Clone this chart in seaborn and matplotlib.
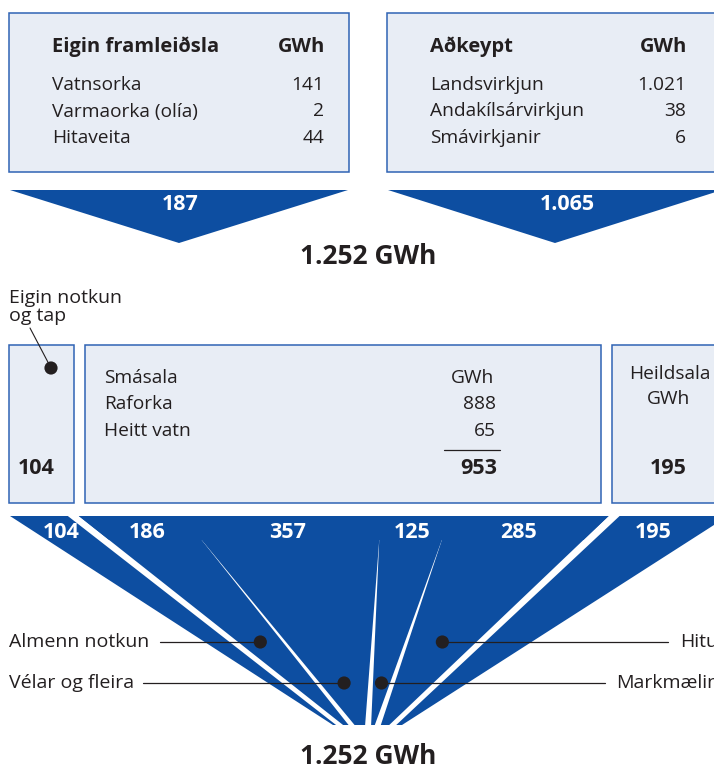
import matplotlib
matplotlib.use("Agg")
import matplotlib.pyplot as plt
from matplotlib.patches import Polygon, Rectangle
import pandas as pd
import seaborn as sns

# data (GWh)
prod_labels = ["Vatnsorka", "Varmaorka (olía)", "Hitaveita"]
prod_values = [141, 2, 44]
buy_labels = ["Landsvirkjun", "Andakílsárvirkjun", "Smávirkjanir"]
buy_values = [1021, 38, 6]
retail_labels = ["Raforka", "Heitt vatn"]
retail_values = [888, 65]
own_use = 104
wholesale = 195
use_labels = ["Eigin notkun og tap", "Almenn notkun", "Vélar og fleira",
              "Markmæling", "Hitun", "Heildsala"]
use_values = [104, 186, 357, 125, 285, 195]
gap_kinds = ["stripe", "wedge", "wedge", "wedge", "stripe"]

BLUE = "#0d4ea1"
BOX_FILL = "#e8edf5"
BOX_EDGE = "#2f63b4"
INK = "#231f20"
FONT = ["Open Sans", "DejaVu Sans"]
BODY = 13.8
HEAD = 14.5
NUM = 15.5
BIG = 19


def fmt(v):
    return f"{v:,}".replace(",", ".")


sns.set_theme(style="white")
plt.rcParams['font.family'] = FONT

fig = plt.figure(figsize=(7.14, 7.69), dpi=100)
ax = fig.add_axes([0, 0, 1, 1])
ax.set_xlim(0, 714)
ax.set_ylim(769, 0)
ax.axis("off")


def box(x0, y0, x1, y1):
    ax.add_patch(Rectangle((x0, y0), x1 - x0, y1 - y0, facecolor=BOX_FILL,
                           edgecolor=BOX_EDGE, lw=1.1, zorder=1))


def txt(x, y, s, size=BODY, weight="normal", ha="left", color=INK, **kw):
    ax.text(x, y, s, fontsize=size, fontweight=weight, ha=ha, va="center",
            color=color, **kw)


# ---- top: sources ----
box(9, 13, 349, 172)
box(387, 13, 727, 172)
txt(52, 47, "Eigin framleiðsla", size=HEAD, weight="bold")
txt(325, 47, "GWh", size=HEAD, weight="bold", ha="right")
txt(430, 47, "Aðkeypt", size=HEAD, weight="bold")
txt(687, 47, "GWh", size=HEAD, weight="bold", ha="right")
for i, (lab, v) in enumerate(zip(prod_labels, prod_values)):
    txt(52, 85 + i * 26.5, lab)
    txt(324, 85 + i * 26.5, fmt(v), ha="right")
for i, (lab, v) in enumerate(zip(buy_labels, buy_values)):
    txt(430, 85 + i * 26.5, lab)
    txt(686, 85 + i * 26.5, fmt(v), ha="right")

ax.add_patch(Polygon([(10, 190), (348, 190), (179, 243)], color=BLUE, lw=0))
ax.add_patch(Polygon([(388, 190), (722, 190), (555, 243)], color=BLUE, lw=0))
txt(180, 205, fmt(sum(prod_values)), size=NUM, weight="bold", ha="center",
    color="white")
txt(567, 205, fmt(sum(buy_values)), size=NUM, weight="bold", ha="center",
    color="white")
total = sum(prod_values) + sum(buy_values)
txt(368, 256, f"{fmt(total)} GWh", size=BIG, weight="bold", ha="center")

# ---- middle: boxes ----
box(9, 345, 74, 503)
box(85, 345, 601, 503)
box(612, 345, 730, 503)
txt(9, 298, "Eigin notkun", size=14)
txt(9, 316, "og tap", size=14)
ax.plot([30, 51], [328, 368], color=INK, lw=0.8)
txt(36, 468, fmt(own_use), size=NUM, weight="bold", ha="center")

txt(104, 378, "Smásala")
txt(494, 378, "GWh", ha="right")
for i, (lab, v) in enumerate(zip(retail_labels, retail_values)):
    txt(104, 404 + i * 26.5, lab)
    txt(496, 404 + i * 26.5, fmt(v), ha="right")
ax.plot([444, 500], [450, 450], color=INK, lw=0.9)
txt(497, 468, fmt(sum(retail_values)), size=NUM, weight="bold", ha="right")

txt(670, 374, "Heildsala", ha="center")
txt(668, 399, "GWh", ha="center")
txt(668, 468, fmt(wholesale), size=NUM, weight="bold", ha="center")

# ---- bottom: fan ----
Y_TOP, Y_BOT, Y_WEDGE = 516, 725, 540
X_LEFT, X_RIGHT = 10, 728
B_LEFT, B_RIGHT = 333, 402
STRIPE_TOP, STRIPE_BOT, WEDGE_BOT = 11, 7, 6

n_stripe = gap_kinds.count("stripe")
n_wedge = gap_kinds.count("wedge")
tot = sum(use_values)
s_top = (X_RIGHT - X_LEFT - n_stripe * STRIPE_TOP) / tot
s_bot = (B_RIGHT - B_LEFT - n_stripe * STRIPE_BOT - n_wedge * WEDGE_BOT) / tot

segs = []
xt, xb = X_LEFT, B_LEFT
for i, v in enumerate(use_values):
    segs.append([xt, xt + v * s_top, xb, xb + v * s_bot])
    xt += v * s_top
    xb += v * s_bot
    if i < len(gap_kinds):
        if gap_kinds[i] == "stripe":
            xt += STRIPE_TOP
            xb += STRIPE_BOT
        else:
            xb += WEDGE_BOT


def at(x0, x1, y):
    return x0 + (x1 - x0) * (y - Y_TOP) / (Y_BOT - Y_TOP)


# solid band over the wedge tips, so the retail part reads as one block on top
first = segs[1]
last = segs[4]
ax.add_patch(Polygon([(first[0], Y_TOP), (last[1], Y_TOP),
                      (at(last[1], last[3], Y_WEDGE), Y_WEDGE),
                      (at(first[0], first[2], Y_WEDGE), Y_WEDGE)],
                     color=BLUE, lw=0, zorder=2))

for i, (tl, tr, bl, br) in enumerate(segs):
    pts = [(tl, Y_TOP), (tr, Y_TOP)]
    if i < len(gap_kinds) and gap_kinds[i] == "wedge":
        c = br + WEDGE_BOT / 2
        pts.append((at(tr, c, Y_WEDGE), Y_WEDGE))
    pts += [(br, Y_BOT), (bl, Y_BOT)]
    if i > 0 and gap_kinds[i - 1] == "wedge":
        c = bl - WEDGE_BOT / 2
        pts.append((at(tl, c, Y_WEDGE), Y_WEDGE))
    ax.add_patch(Polygon(pts, color=BLUE, lw=0, zorder=2))
    y = 532
    xc = (at(tl, bl, y) + at(tr, br, y)) / 2
    txt(xc, y, fmt(use_values[i]), size=NUM, weight="bold", ha="center",
        color="white", zorder=3)

txt(368, 757, f"{fmt(tot)} GWh", size=BIG, weight="bold", ha="center")

# callouts (right-hand labels run off the edge, as in the original)
callouts = pd.DataFrame({
    "label": use_labels[1:5],
    "y": [642, 683, 683, 642],
    "text_x": [9, 9, 616, 680],
    "line_x": [160, 143, 605, 668],
})
xs = []
for k, row in callouts.iterrows():
    tl, tr, bl, br = segs[k + 1]
    xd = (at(tl, bl, row.y) + at(tr, br, row.y)) / 2
    xs.append(xd)
    ax.plot([row.line_x, xd], [row.y, row.y], color=INK, lw=0.9, zorder=4)
    txt(row.text_x, row.y, row.label, size=14)
callouts["x"] = xs
dots = pd.concat([callouts[["x", "y"]],
                  pd.DataFrame({"x": [51], "y": [368]})], ignore_index=True)
sns.scatterplot(data=dots, x="x", y="y", ax=ax, color=INK, s=90,
                edgecolor="none", zorder=5, legend=False)
ax.set_xlim(0, 714)
ax.set_ylim(769, 0)
ax.axis("off")

fig.savefig("out.png", dpi=100)
